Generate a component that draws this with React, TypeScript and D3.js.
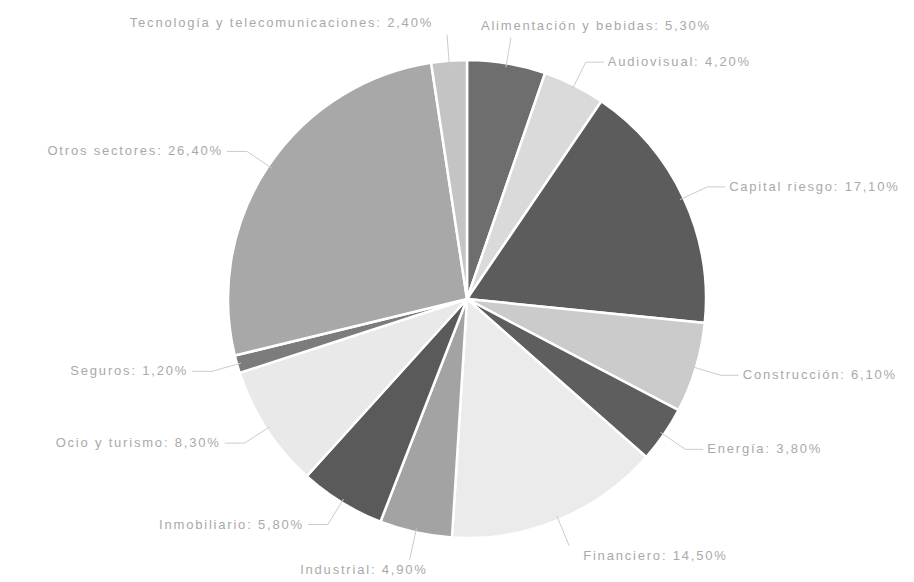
import React from "react";
import * as d3 from "d3";

const categories = [
  "Alimentación y bebidas",
  "Audiovisual",
  "Capital riesgo",
  "Construcción",
  "Energía",
  "Financiero",
  "Industrial",
  "Inmobiliario",
  "Ocio y turismo",
  "Seguros",
  "Otros sectores",
  "Tecnología y telecomunicaciones",
];
const values = [5.3, 4.2, 17.1, 6.1, 3.8, 14.5, 4.9, 5.8, 8.3, 1.2, 26.4, 2.4];
const colors = [
  "#6e6e6e", "#dadada", "#5c5c5c", "#cbcbcb", "#5e5e5e", "#ebebeb",
  "#a3a3a3", "#5a5a5a", "#e9e9e9", "#7c7c7c", "#a8a8a8", "#c4c4c4",
];

const W = 914, H = 582;
const cx = 467, cy = 299, R = 239;

export default function App() {
  const pie = d3.pie<number>().sort(null).value((d) => d)(values);
  const arc = d3.arc<d3.PieArcDatum<number>>().innerRadius(0).outerRadius(R);
  const fmt = (v: number) => v.toFixed(2).replace(".", ",") + "%";

  return (
    <svg width={W} height={H} style={{ position: "absolute", left: 0, top: 0, background: "#fff" }}
      fontFamily="'Liberation Sans', Arial, sans-serif">
      <g transform={`translate(${cx},${cy})`}>
        {pie.map((p, i) => (
          <path key={i} d={arc(p) || ""} fill={colors[i]} stroke="#fff" strokeWidth={2.5} />
        ))}
        {pie.map((p, i) => {
          const a = (p.startAngle + p.endAngle) / 2;
          const s = Math.sin(a), c = -Math.cos(a);
          const right = s >= 0;
          const bottom = c > 0.9;
          const top = c < -0.93;
          const rl = R + (bottom ? 28 : 26);
          const x0 = s * (R - 4), y0 = c * (R - 4);
          const x1 = s * rl, y1 = c * rl;
          let tx: number, ty: number, lx: number;
          if (top) {
            lx = x1;
            tx = right ? x1 - 30 : x1 - 14;
            ty = y1 - 8;
          } else if (bottom) {
            lx = x1;
            tx = right ? x1 + 14 : x1 + 18;
            ty = y1 + 14;
          } else {
            lx = x1 + (right ? 18 : -20);
            tx = lx + (right ? 4 : -4);
            ty = y1 + 4;
          }
          return (
            <g key={"l" + i}>
              <polyline points={`${x0},${y0} ${x1},${y1} ${lx},${y1}`} fill="none" stroke="#cccccc" strokeWidth={1} />
              <text x={tx} y={ty} textAnchor={right ? "start" : "end"} fontSize={13} letterSpacing={1.8} fill="#a9a9a9">
                {categories[i]}: {fmt(values[i])}
              </text>
            </g>
          );
        })}
      </g>
    </svg>
  );
}
